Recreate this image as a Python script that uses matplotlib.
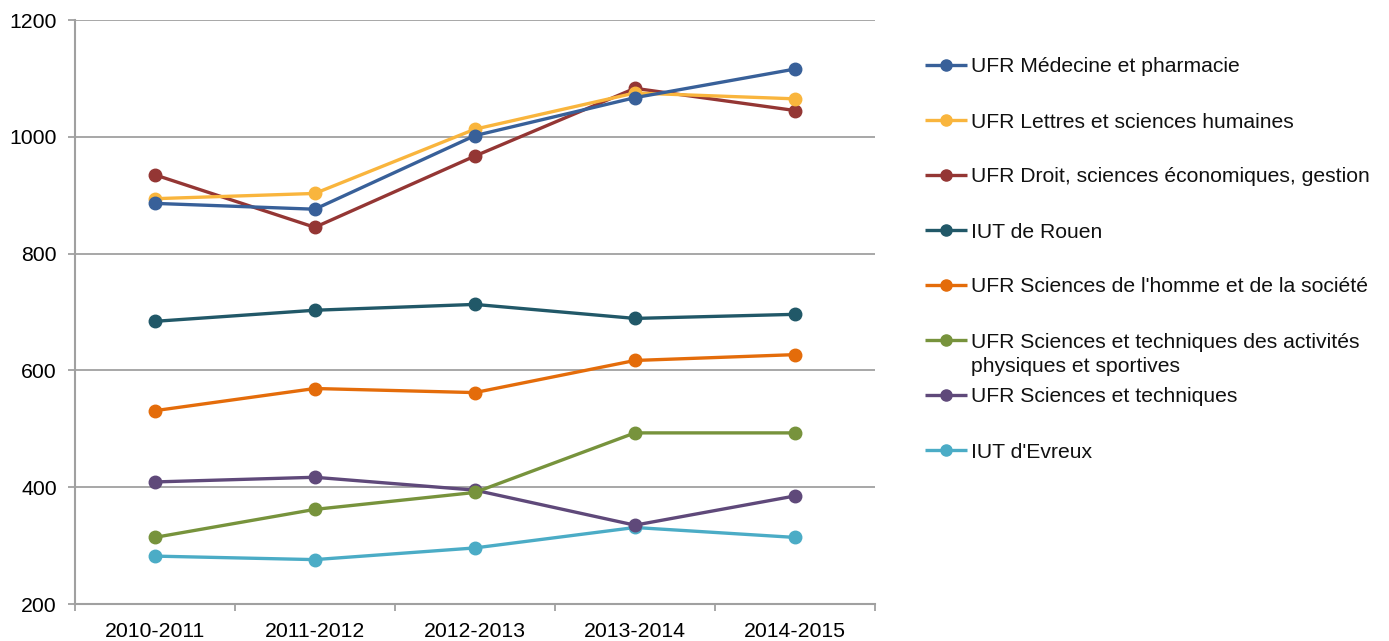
import matplotlib
matplotlib.use("Agg")
import matplotlib.pyplot as plt
from matplotlib.ticker import FixedLocator, NullFormatter

plt.rcParams['font.family'] = ['Liberation Sans', 'DejaVu Sans']

years = ["2010-2011", "2011-2012", "2012-2013", "2013-2014", "2014-2015"]

series_names = [
    "UFR Médecine et pharmacie",
    "UFR Lettres et sciences humaines",
    "UFR Droit, sciences économiques, gestion",
    "IUT de Rouen",
    "UFR Sciences de l'homme et de la société",
    "UFR Sciences et techniques des activités\nphysiques et sportives",
    "UFR Sciences et techniques",
    "IUT d'Evreux",
]

medecine = [886, 876, 1002, 1067, 1116]
lettres = [894, 903, 1013, 1075, 1065]
droit = [935, 845, 967, 1083, 1045]
iut_rouen = [684, 703, 713, 689, 696]
shs = [531, 569, 562, 617, 627]
staps = [314, 362, 391, 493, 493]
sciences_tech = [409, 417, 395, 335, 385]
iut_evreux = [282, 276, 296, 331, 314]

values = [medecine, lettres, droit, iut_rouen, shs, staps, sciences_tech, iut_evreux]
colors = ["#386099", "#F9B53D", "#943634", "#215868", "#E46C0A", "#77933C", "#5F497A", "#4BACC6"]

W, H = 1389, 641
fig = plt.figure(figsize=(W / 100, H / 100), dpi=100)
ax = fig.add_axes([74.7 / W, 1 - 604 / H, (875 - 74.7) / W, (604 - 20) / H])

x = list(range(len(years)))
# draw in reverse order so the first series is on top
for name, vals, c in reversed(list(zip(series_names, values, colors))):
    ax.plot(x, vals, color=c, lw=2.4, marker='o', markersize=9, zorder=3,
            solid_capstyle='round')

grid_c = "#A0A0A0"
ax.set_ylim(200, 1200)
ax.set_yticks([200, 400, 600, 800, 1000, 1200])
ax.yaxis.grid(True, color=grid_c, lw=1.3)
ax.set_axisbelow(True)
ax.set_xlim(-0.5, len(years) - 0.5)
ax.set_xticks(x)
ax.set_xticklabels(years)
ax.xaxis.set_minor_locator(FixedLocator([i - 0.5 for i in range(len(years) + 1)]))
ax.xaxis.set_minor_formatter(NullFormatter())
ax.tick_params(axis='x', which='major', length=0, pad=13, labelsize=15.3)
ax.tick_params(axis='x', which='minor', length=5, width=1.3, color=grid_c, direction='out')
ax.tick_params(axis='y', length=5, width=1.3, color=grid_c, pad=8, labelsize=15.3)
for s in ['top', 'right']:
    ax.spines[s].set_visible(False)
for s in ['left', 'bottom']:
    ax.spines[s].set_color(grid_c)
    ax.spines[s].set_linewidth(1.5)

# manual legend
lax = fig.add_axes([0, 0, 1, 1], facecolor='none')
lax.set_xlim(0, W)
lax.set_ylim(H, 0)
lax.axis('off')
ys = [65, 120, 175, 230, 285, 340, 395, 450]
for yy, name, c in zip(ys, series_names, colors):
    lax.plot([925, 967], [yy, yy], color=c, lw=2.4, solid_capstyle='butt')
    lax.plot([946], [yy], color=c, marker='o', markersize=8)
    for k, line in enumerate(name.split('\n')):
        lax.text(971, yy + 2 + 25 * k, line, fontsize=15.2, va='center',
                 ha='left', color='#111111')

fig.savefig("out.png", dpi=100, facecolor='white')
